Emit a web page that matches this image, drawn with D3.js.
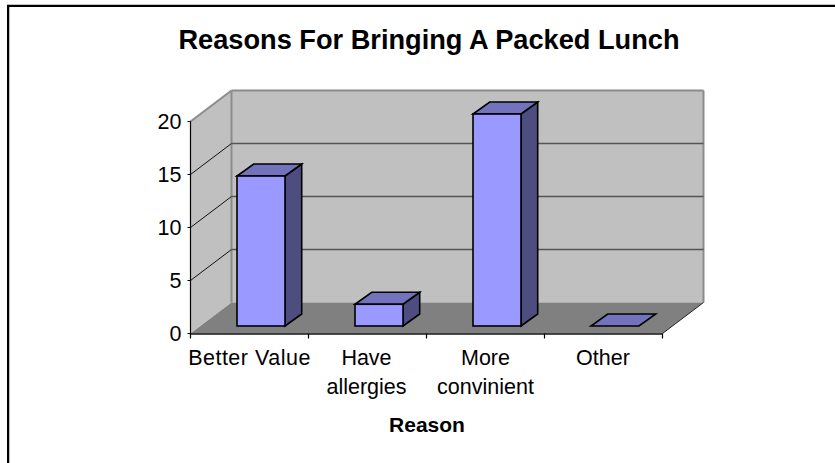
<!DOCTYPE html>
<html><head><meta charset="utf-8"><script src="https://cdn.jsdelivr.net/npm/d3@7"></script>
<style>html,body{margin:0;background:#fff}svg{display:block}text{font-family:"Liberation Sans",Arial,sans-serif;fill:#000}</style></head>
<body><svg id="c" width="835" height="463"></svg>
<script>
const categories=[["Better Value"],["Have","allergies"],["More","convinient"],["Other"]];
const values=[14.15,2.05,20,0];
const ticks=[0,5,10,15,20];
const title="Reasons For Bringing A Packed Lunch";
const axisTitle="Reason";
const svg=d3.select("#c");
const x0=190.5,x1=662.5,yB=333.5,yT=121.5,dx=41,dy=-31;
const y=d3.scaleLinear().domain([0,20]).range([326,114]);
const wallY=d3.scaleLinear().domain([0,20]).range([yB,yT]);
const xs=d3.scaleBand().domain(d3.range(4)).range([x0,x1]);
const poly=(p,fill,stroke,w)=>svg.append("polygon").attr("points",p.map(a=>a.join(",")).join(" ")).attr("fill",fill).attr("stroke",stroke||"none").attr("stroke-width",w||0).attr("stroke-linejoin","miter");
const line=(a,b,s,w)=>svg.append("line").attr("x1",a[0]).attr("y1",a[1]).attr("x2",b[0]).attr("y2",b[1]).attr("stroke",s).attr("stroke-width",w);
line([9.5,4],[9.5,463],"#c0c0c0",1);
line([7,4.5],[835,4.5],"#c0c0c0",1);
line([8,5],[8,463],"#000",2);
line([7,6],[835,6],"#000",2);
poly([[x0+dx,wallY(0)+dy],[x1+dx,wallY(0)+dy],[x1+dx,wallY(20)+dy],[x0+dx,wallY(20)+dy]],"#c0c0c0");
poly([[x0,wallY(0)],[x0+dx,wallY(0)+dy],[x0+dx,wallY(20)+dy],[x0,wallY(20)]],"#c0c0c0");
poly([[x0,wallY(0)],[x1,wallY(0)],[x1+dx,wallY(0)+dy],[x0+dx,wallY(0)+dy]],"#808080");
line([x0+dx,wallY(20)+dy],[x1+dx,wallY(20)+dy],"#8c8c8c",2);
line([x0,wallY(20)],[x0+dx,wallY(20)+dy],"#8c8c8c",2);
line([x0+dx,wallY(0)+dy],[x0+dx,wallY(20)+dy],"#8c8c8c",2);
line([x1+dx,wallY(0)+dy],[x1+dx,wallY(20)+dy],"#8c8c8c",2);
line([x1,wallY(0)],[x1+dx,wallY(0)+dy],"#222",1);
ticks.filter(t=>t>0&&t<20).forEach(t=>{
  line([x0,wallY(t)],[x0+dx,wallY(t)+dy],"#111",1);
  line([x0+dx,wallY(t)+dy],[x1+dx,wallY(t)+dy],"#555",1.3);
});
line([x0,wallY(0)+.5],[x1,wallY(0)+.5],"#111",1.5);
line([x0,wallY(20)],[x0,wallY(0)+1],"#000",1.2);
ticks.forEach(t=>{
  line([x0-3,wallY(t)],[x0,wallY(t)],"#000",1);
  svg.append("text").attr("x",x0-9).attr("y",wallY(t)+7.5).attr("text-anchor","end").attr("font-size",21.5).text(t);
});
d3.range(5).forEach(i=>line([x0+i*xs.step(),yB],[x0+i*xs.step(),yB+5],"#000",1.2));
const bw=48,ox=46.5,ddx=16.7,ddy=-12;
values.forEach((v,i)=>{
  const l=x0+i*xs.step()+ox, r=l+bw, b=y(0), t=y(v);
  if(v>0){
    poly([[r,b],[r+ddx,b+ddy],[r+ddx,t+ddy],[r,t]],"#4d4d80","#000",1.6);
  }
  poly([[l,t],[r,t],[r+ddx,t+ddy],[l+ddx,t+ddy]],"#7373bd","#000",1.6);
  if(v>0) svg.append("rect").attr("x",l).attr("y",t).attr("width",bw).attr("height",b-t).attr("fill","#9999ff").attr("stroke","#000").attr("stroke-width",1.6);
});
const labelX=[249.5,366.5,485.5,603];
categories.forEach((c,i)=>c.forEach((s,j)=>svg.append("text").attr("x",labelX[i]).attr("y",364.5+j*29).attr("text-anchor","middle").attr("font-size",21.5).attr("letter-spacing",i==0?0.5:0).text(s)));
svg.append("text").attr("x",427).attr("y",432).attr("text-anchor","middle").attr("font-size",21).attr("font-weight","bold").text(axisTitle);
svg.append("text").attr("x",429).attr("y",48.5).attr("text-anchor","middle").attr("font-size",27.2).attr("font-weight","bold").text(title);
</script></body></html>
